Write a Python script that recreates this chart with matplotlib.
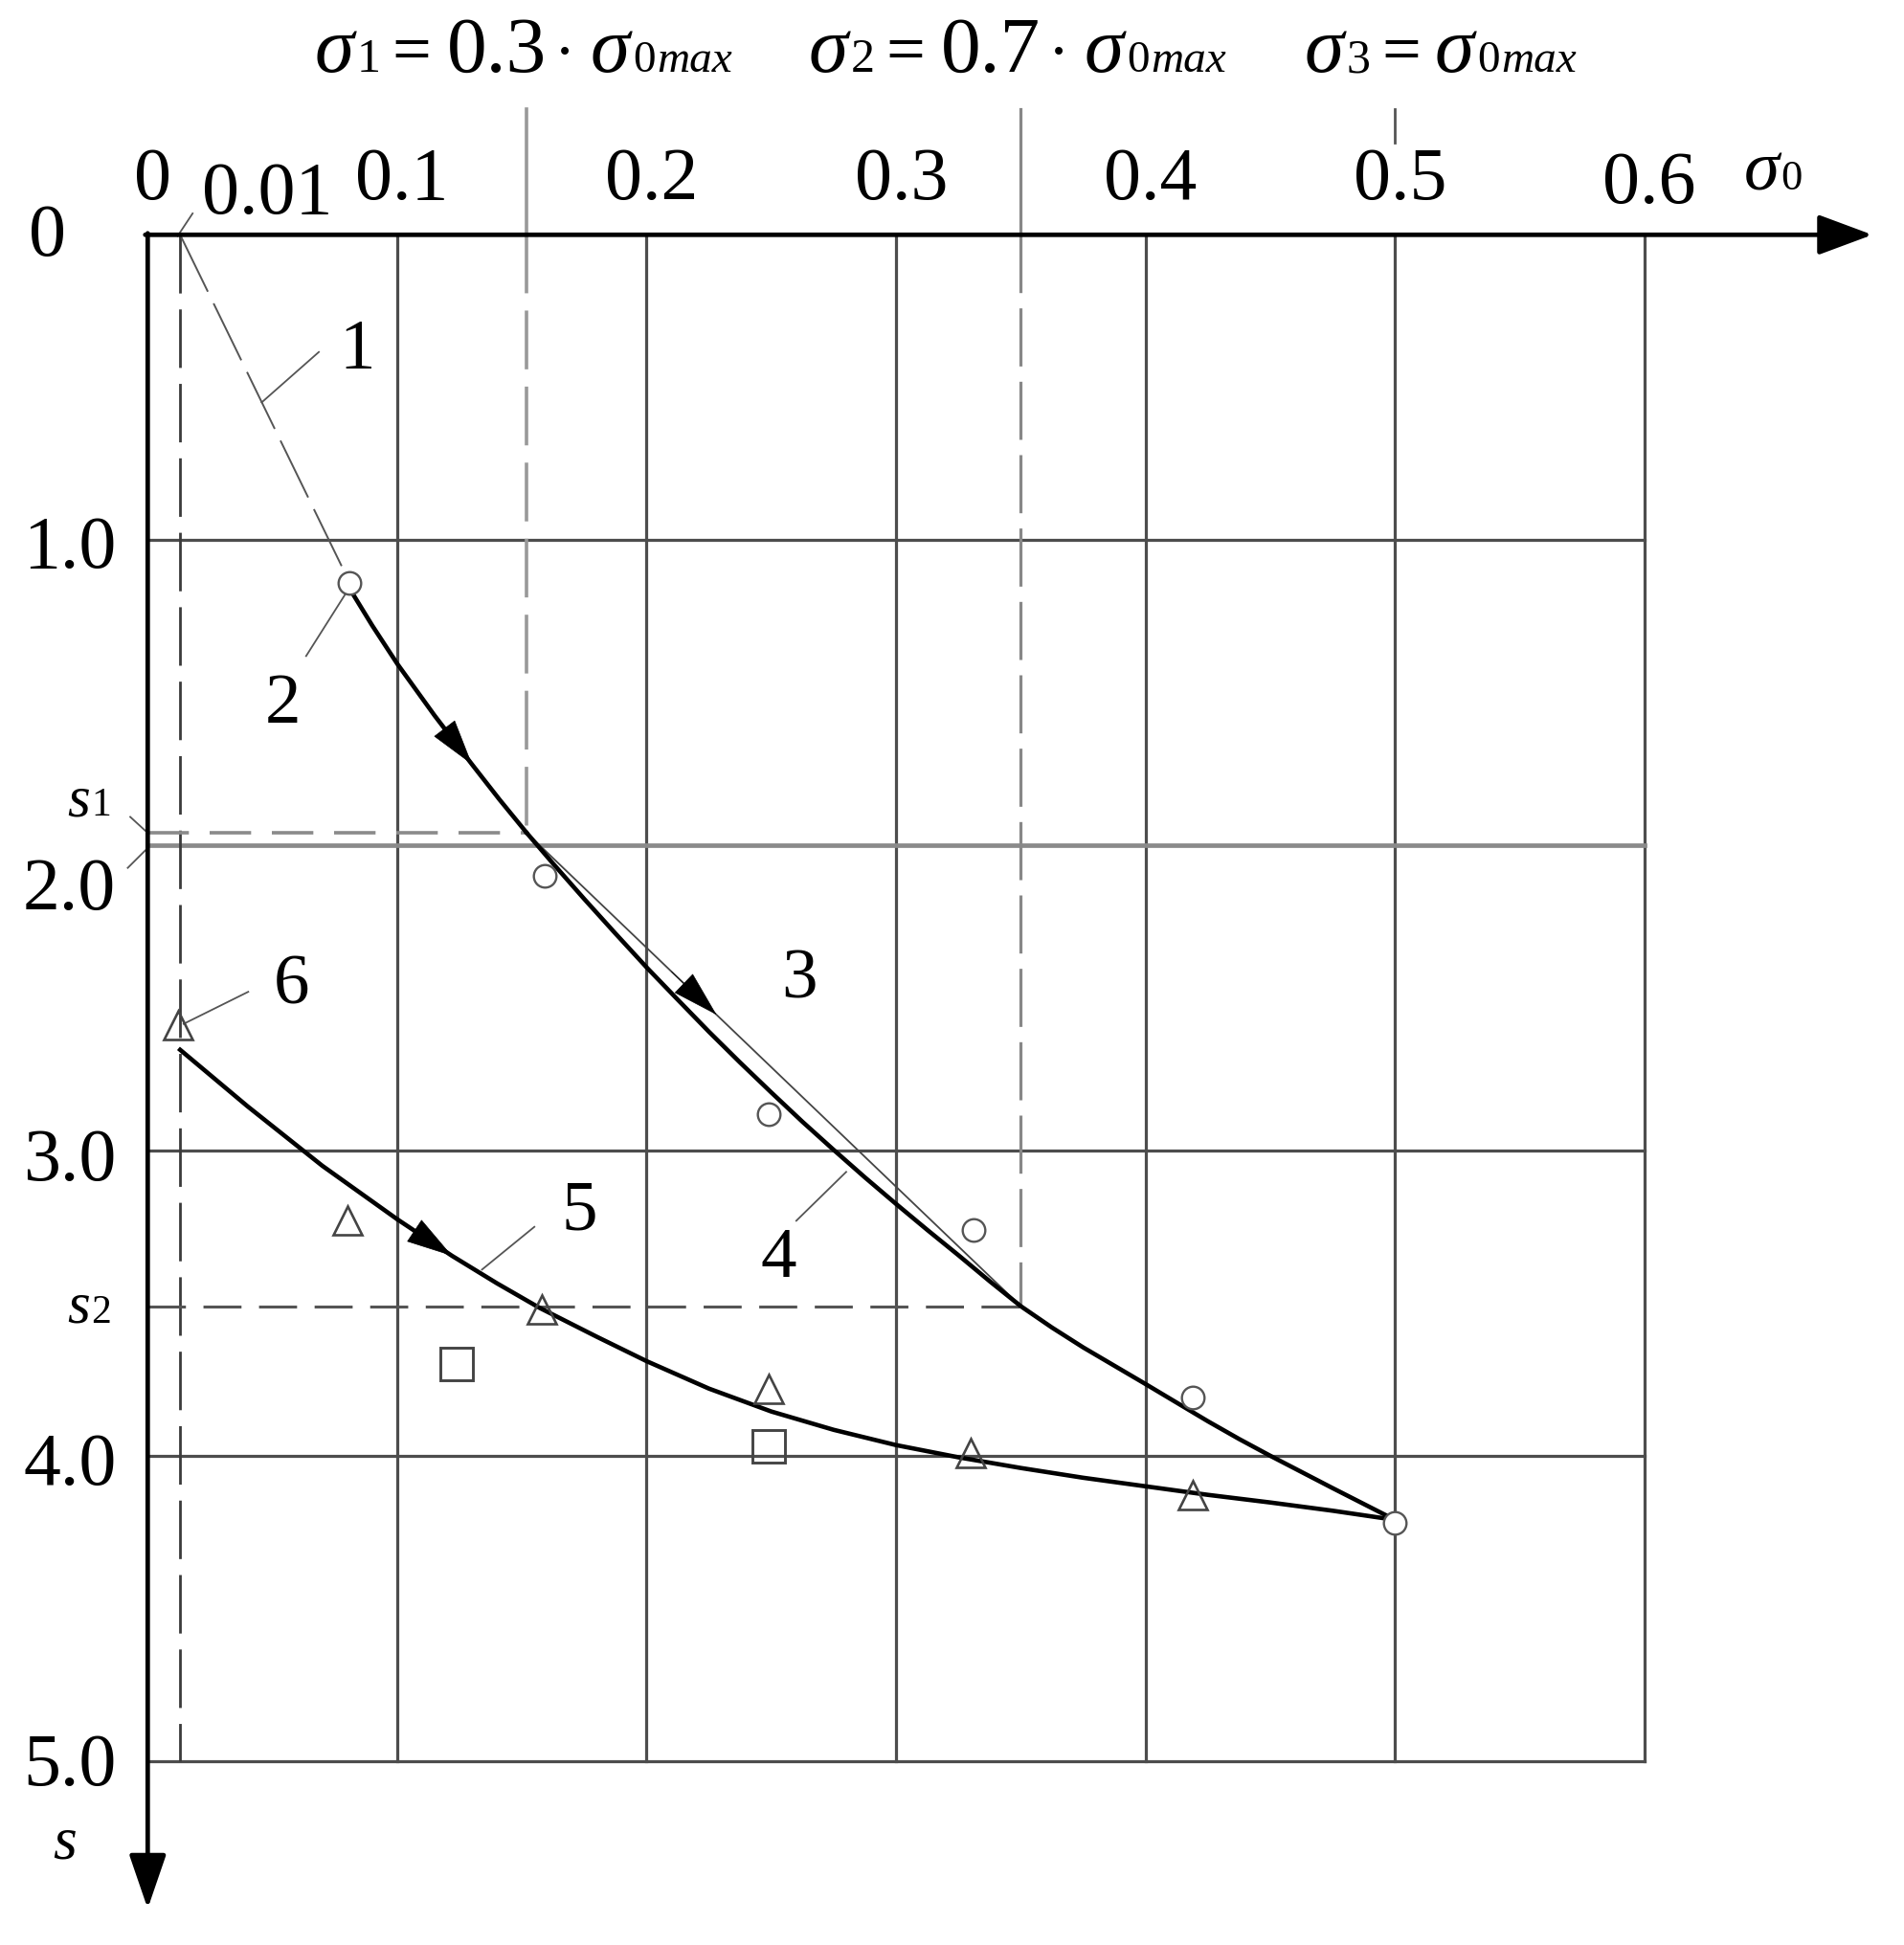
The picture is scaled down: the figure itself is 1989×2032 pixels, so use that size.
import matplotlib
matplotlib.use("Agg")
import matplotlib.pyplot as plt

plt.rcParams['font.family'] = ['Liberation Serif', 'DejaVu Serif']

# ---------------- data ----------------
grid_sigma = [0.1, 0.2, 0.3, 0.4, 0.5, 0.6]
grid_s = [1.0, 2.0, 3.0, 4.0, 5.0]
top_tick_labels = ['0.1', '0.2', '0.3', '0.4', '0.5', '0.6']
left_tick_labels = ['1.0', '2.0', '3.0', '4.0', '5.0']

sigma_start = 0.013
sigma_1 = 0.152
sigma_2 = 0.35
sigma_3 = 0.5
s_1 = 1.96
s_2 = 3.51

curve1_sigma = [0.013, 0.081]
curve1_s = [0.0, 1.14]
curve2_sigma = [0.081, 0.09, 0.10, 0.115, 0.13, 0.141, 0.152]
curve2_s = [1.16, 1.28, 1.405, 1.575, 1.735, 1.85, 1.96]
line3_sigma = [0.152, 0.35]
line3_s = [1.96, 3.51]
curve4_sigma = [0.152, 0.1625, 0.175, 0.1875, 0.2, 0.2125, 0.225, 0.2375, 0.25,
                0.2625, 0.275, 0.2875, 0.3, 0.3125, 0.325, 0.3375, 0.35, 0.3625,
                0.375, 0.3875, 0.4, 0.4125, 0.425, 0.4375, 0.45, 0.4625, 0.475,
                0.4875, 0.5]
curve4_s = [1.96, 2.06, 2.176, 2.289, 2.40, 2.506, 2.611, 2.712, 2.81,
            2.906, 2.998, 3.088, 3.175, 3.26, 3.343, 3.428, 3.51, 3.58,
            3.645, 3.705, 3.765, 3.826, 3.887, 3.945, 4.0, 4.053, 4.106,
            4.158, 4.21]
curve5_sigma = [0.013, 0.04, 0.07, 0.1, 0.122, 0.14, 0.157, 0.18, 0.2, 0.225,
                0.25, 0.275, 0.3, 0.325, 0.35, 0.375, 0.4, 0.425, 0.45, 0.475, 0.5]
curve5_s = [2.67, 2.855, 3.05, 3.225, 3.345, 3.435, 3.515, 3.61, 3.69, 3.78,
            3.855, 3.915, 3.965, 4.005, 4.04, 4.072, 4.10, 4.128, 4.153, 4.18, 4.21]

circle_sigma = [0.081, 0.159, 0.249, 0.331, 0.419, 0.5]
circle_s = [1.14, 2.10, 2.88, 3.26, 3.81, 4.22]
triangle_sigma = [0.012, 0.080, 0.158, 0.249, 0.330, 0.419]
triangle_s = [2.59, 3.23, 3.52, 3.78, 3.99, 4.13]
square_sigma = [0.124, 0.249]
square_s = [3.70, 3.97]

# ---------------- figure ----------------
W, H = 1990, 2033
fig = plt.figure(figsize=(W / 100, H / 100), dpi=100)
ax = fig.add_axes([0, 0, 1, 1])
X0, XS = 154.3, 2606.0   # pixel of sigma=0, pixels per unit sigma
Y0, YS = 246.3, 318.9    # pixel of s=0, pixels per unit s
ax.set_xlim(-X0 / XS, (W - X0) / XS)
ax.set_ylim((H - Y0) / YS, -Y0 / YS)
ax.axis('off')


def px(X):
    return (X - X0) / XS


def py(Y):
    return (Y - Y0) / YS


grid_col = '#4d4d4d'
# grid
for g in grid_sigma:
    ax.plot([g, g], [0, 5], color=grid_col, lw=2.3, zorder=1)
for g in grid_s:
    if g == 2.0:
        ax.plot([0, 0.6], [g, g], color='#8a8a8a', lw=3.4, zorder=1)
    else:
        ax.plot([0, 0.6], [g, g], color=grid_col, lw=2.3, zorder=1)

# dashed construction lines
ax.plot([sigma_start, sigma_start], [0, 5], color='#3a3a3a', lw=2.0,
        linestyle=(0, (22, 6)), zorder=2)
ax.plot([sigma_1, sigma_1], [py(115), 0], color='#999999', lw=2.6, zorder=2)
ax.plot([sigma_1, sigma_1], [0, s_1], color='#999999', lw=2.6,
        linestyle=(0, (17, 5)), zorder=2)
ax.plot([sigma_2, sigma_2], [py(115), 0], color='#888888', lw=2.3, zorder=2)
ax.plot([sigma_2, sigma_2], [0, s_2], color='#888888', lw=2.3,
        linestyle=(0, (19, 5)), zorder=2)
ax.plot([sigma_3, sigma_3], [py(115), py(150)], color='#555555', lw=2.0, zorder=2)
ax.plot([0, sigma_1], [s_1, s_1], color='#8a8a8a', lw=2.6,
        linestyle=(0, (12, 6)), zorder=2)
ax.plot([0, sigma_2], [s_2, s_2], color='#555555', lw=2.2,
        linestyle=(0, (13, 6)), zorder=2)


# axes with arrows
def arrow(tail, tip, lw, hl, hw, color='k'):
    ax.annotate('', xy=tip, xytext=tail,
                arrowprops=dict(arrowstyle=f'-|>,head_length={hl},head_width={hw}',
                                lw=lw, color=color, shrinkA=0, shrinkB=0,
                                mutation_scale=10), zorder=6)


arrow((-0.001, 0), (px(1956), 0), 3.4, 3.5, 1.3)
arrow((0, -0.005), (0, py(1995)), 3.4, 3.5, 1.2)

# curves
ax.plot(curve1_sigma, curve1_s, color='#555555', lw=1.4,
        linestyle=(0, (34, 7)), zorder=3)
ax.plot(curve2_sigma, curve2_s, color='k', lw=3.3, zorder=4,
        solid_capstyle='round', solid_joinstyle='round')
ax.plot(line3_sigma, line3_s, color='#444444', lw=1.3, zorder=4)
ax.plot(curve4_sigma, curve4_s, color='k', lw=3.3, zorder=4,
        solid_joinstyle='round')
ax.plot(curve5_sigma, curve5_s, color='k', lw=3.3, zorder=4,
        solid_joinstyle='round')

arrow((curve2_sigma[3], curve2_s[3]), (curve2_sigma[4], curve2_s[4]), 0.5, 3.3, 0.95)
arrow((0.21, 2.414), (0.228, 2.555), 0.5, 3.3, 0.95)
arrow((curve5_sigma[3], curve5_s[3]), (curve5_sigma[4], curve5_s[4]), 0.5, 3.3, 0.95)

# markers
ax.plot(circle_sigma, circle_s, linestyle='none', marker='o', ms=17,
        mfc='white', mec='#555555', mew=1.7, zorder=5)
ax.plot(triangle_sigma, triangle_s, linestyle='none', marker='^', ms=21,
        mfc='none', mec='#444444', mew=1.9, zorder=5)
ax.plot(square_sigma, square_s, linestyle='none', marker='s', ms=24,
        mfc='none', mec='#444444', mew=2.1, zorder=5)

# leaders
lead_col = '#555555'
leaders = [((0.0457, 0.549), (0.0686, 0.384)),
           ((0.079, 1.18), (0.0635, 1.38)),
           ((0.26, 3.23), (0.28, 3.07)),
           ((0.134, 3.39), (0.155, 3.25)),
           ((0.0403, 2.48), (0.0144, 2.585)),
           ((0.012, 0.004), (0.018, -0.07)),
           ((-0.007, 1.907), (-0.001, 1.952)),
           ((-0.008, 2.074), (-0.001, 2.017))]
for (a, b) in leaders:
    ax.plot([a[0], b[0]], [a[1], b[1]], color=lead_col, lw=1.3, zorder=3)

# curve number labels
num_fs = 54
for txt, (xx, yy) in zip(['1', '2', '3', '4', '5', '6'],
                         [(0.084, 0.378), (0.054, 1.54), (0.261, 2.44),
                          (0.253, 3.355), (0.173, 3.20), (0.0577, 2.46)]):
    ax.text(xx, yy, txt, fontsize=num_fs, ha='center', va='center', zorder=7)

# tick labels
tfs = 56
ax.text(px(159.5), py(208), '0', fontsize=tfs, ha='center', va='baseline')
ax.text(px(279), py(223), '0.01', fontsize=tfs, ha='center', va='baseline')
for g, lab in zip(grid_sigma, top_tick_labels):
    base = 208 if lab != '0.6' else 212
    ax.text(g + 0.002, py(base), lab, fontsize=tfs, ha='center', va='baseline')
ax.text(px(1822), py(198), 'σ', fontsize=54, fontstyle='italic', ha='left', va='baseline')
ax.text(px(1860), py(198), '0', fontsize=32, ha='left', va='baseline')

ax.text(px(30), py(267), '0', fontsize=tfs, ha='left', va='baseline')
left_base = {'1.0': 593, '2.0': 950, '3.0': 1233, '4.0': 1551, '5.0': 1865}
for g, lab in zip(grid_s, left_tick_labels):
    ax.text(px(24), py(left_base[lab]), lab, fontsize=tfs, ha='left', va='baseline')
ax.text(px(70), py(852), 's', fontsize=44, fontstyle='italic', ha='left', va='baseline')
ax.text(px(95), py(852), '1', fontsize=30, ha='left', va='baseline')
ax.text(px(70), py(1382), 's', fontsize=44, fontstyle='italic', ha='left', va='baseline')
ax.text(px(95), py(1382), '2', fontsize=30, ha='left', va='baseline')
ax.text(px(55), py(1942), 's', fontsize=46, fontstyle='italic', ha='left', va='baseline')

# header formulas
BASE = py(75)


def header(x0, idx, factor):
    ax.text(px(x0), BASE, 'σ', fontsize=60, fontstyle='italic', ha='left', va='baseline')
    ax.text(px(x0 + 44), BASE, idx, fontsize=36, ha='left', va='baseline')
    ax.text(px(x0 + 80), BASE, '=', fontsize=52, ha='left', va='baseline')
    off = 136
    if factor is not None:
        ax.text(px(x0 + 138), BASE, factor, fontsize=60, ha='left', va='baseline')
        ax.text(px(x0 + 261), BASE, '·', fontsize=48, ha='center', va='baseline')
        off = 288
    ax.text(px(x0 + off), BASE, 'σ', fontsize=60, fontstyle='italic', ha='left', va='baseline')
    ax.text(px(x0 + off + 44), BASE, '0', fontsize=34, ha='left', va='baseline')
    ax.text(px(x0 + off + 69), BASE, 'max', fontsize=34, fontstyle='italic',
            ha='left', va='baseline')


header(329, '1', '0.3')
header(845, '2', '0.7')
header(1363, '3', None)

fig.savefig('out.png', dpi=100)
